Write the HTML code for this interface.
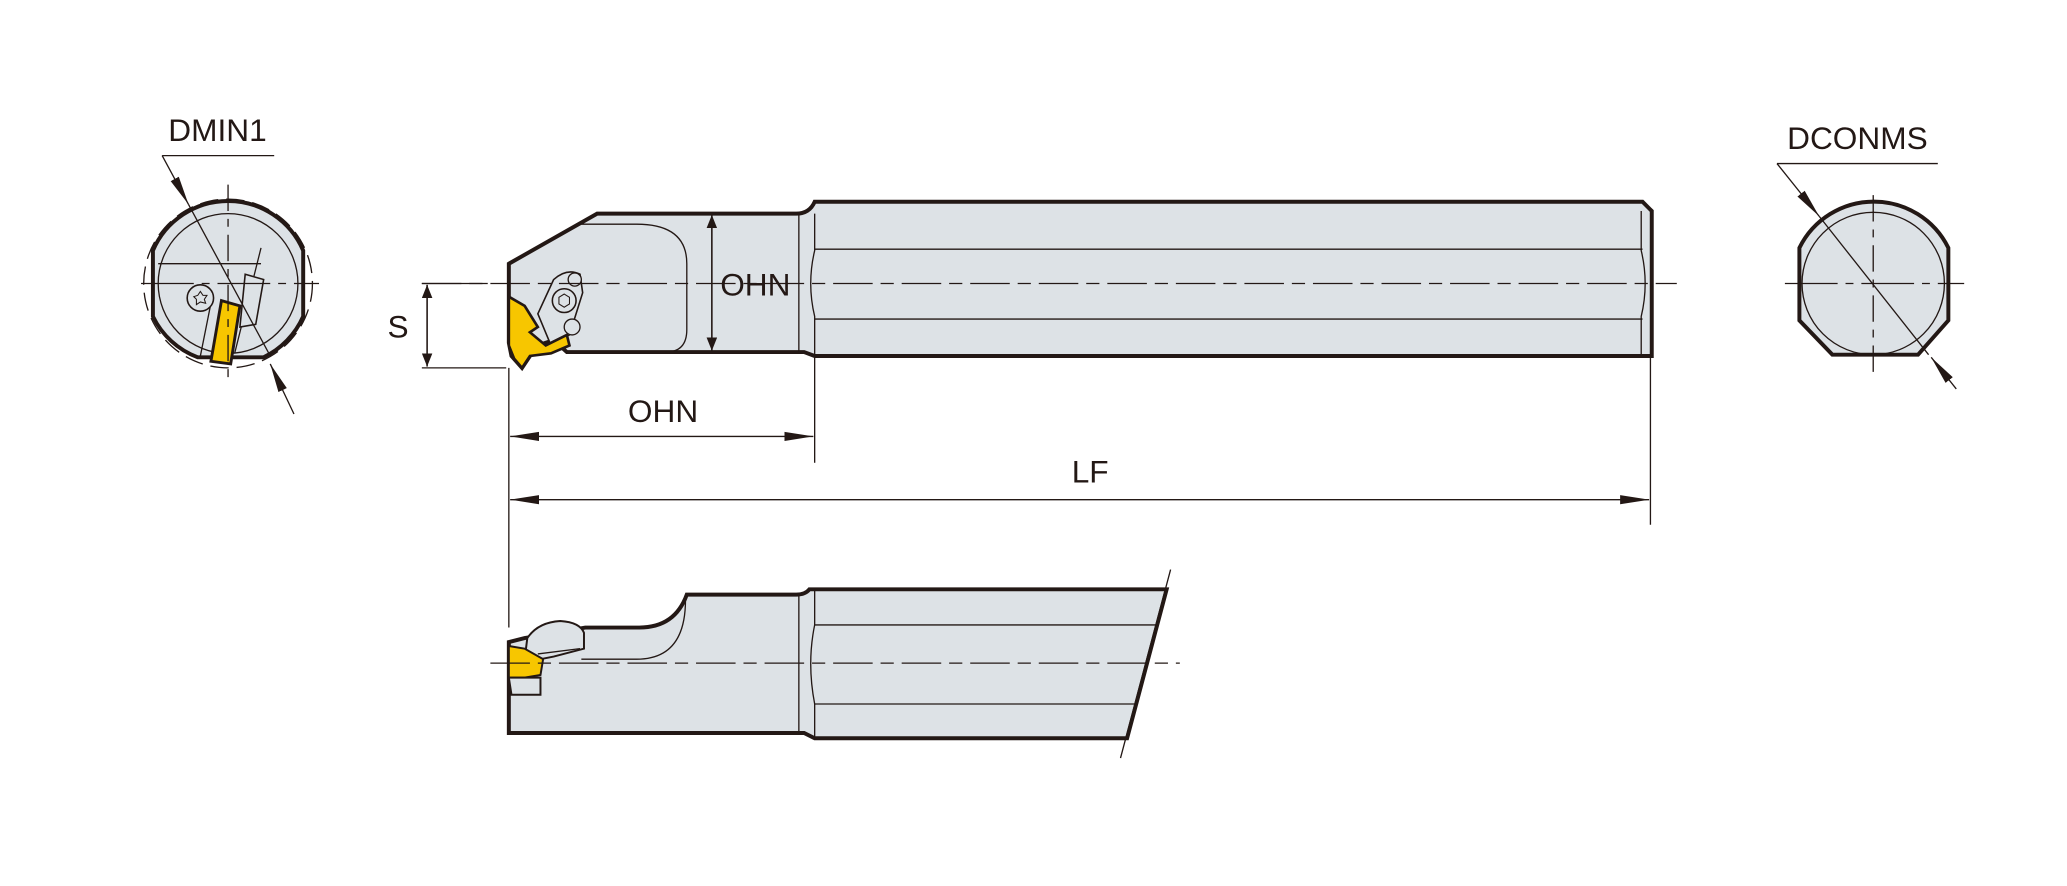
<!DOCTYPE html>
<html><head><meta charset="utf-8"><style>
html,body{margin:0;padding:0;background:#fff;}
svg{display:block;}
text{font-family:"Liberation Sans",sans-serif;fill:#231815;}
</style></head><body>
<svg width="2067" height="886" viewBox="0 0 1568 672" xmlns="http://www.w3.org/2000/svg">
<defs>
<marker id="ar" markerWidth="10" markerHeight="8" refX="10" refY="4" orient="auto-start-reverse" markerUnits="userSpaceOnUse" viewBox="0 0 10 8">
<path d="M0,0 L10,4 L0,8 Z" fill="#231815"/></marker>
<marker id="arL" markerWidth="22" markerHeight="8" refX="22" refY="4" orient="auto-start-reverse" markerUnits="userSpaceOnUse" viewBox="0 0 22 8">
<path d="M0,0.5 L22,4 L0,7.5 Z" fill="#231815"/></marker>
</defs>
<g stroke="#231815" fill="none">

<!-- LEFT END VIEW -->
<circle cx="173" cy="215" r="64" stroke-width="1" stroke-dasharray="14,6"/>
<path d="M116,190 A62,62 0 0 1 230,190 L230,240 A62,62 0 0 1 200,271 L150,271 A62,62 0 0 1 116,240 Z" fill="#dde2e6" stroke-width="3"/>
<circle cx="173" cy="215" r="53" stroke-width="1"/>
<line x1="120" y1="200" x2="198" y2="200" stroke-width="1"/>
<line x1="198" y1="188" x2="178" y2="268" stroke-width="1"/>
<line x1="160" y1="230" x2="152" y2="270" stroke-width="1"/>
<circle cx="152" cy="226" r="10" fill="#dde2e6" stroke-width="1.2"/>
<path d="M152,221 l2,3 l3,0 l-2,3 l1,3 l-4,-1 l-3,2 l0,-4 l-2,-2 l3,-1 Z" stroke-width="0.8"/>
<path d="M186,208 l14,4 l-6,34 l-12,2 Z" fill="#dde2e6" stroke-width="1.2"/>
<path d="M168,228 L182,232 L175,276 L160,274 Z" fill="#f7c600" stroke-width="2.2"/>
<line x1="107" y1="215" x2="242" y2="215" stroke-width="1" stroke-dasharray="40,6,6,6"/>
<line x1="173" y1="140" x2="173" y2="286" stroke-width="1" stroke-dasharray="20,6,6,6"/>
<line x1="123" y1="118" x2="208" y2="118" stroke-width="1"/>
<line x1="123" y1="118" x2="143" y2="155" stroke-width="1" marker-end="url(#arL)"/>
<line x1="143" y1="155" x2="205" y2="270" stroke-width="1"/>
<line x1="223" y1="314" x2="205" y2="276" stroke-width="1" marker-end="url(#arL)"/>

<!-- MAIN VIEW -->
<path d="M386,200 L453,162 L604,162 Q614,162 618,153 L1246,153 L1253,160 L1253,270 L618,270 L610,267 L430,267 L420,258 L408,262 L402,270 L396,279 L388,270 L386,260 Z" fill="#dde2e6" stroke-width="3"/>
<line x1="606" y1="162" x2="606" y2="267" stroke-width="1"/>
<path d="M618,162 L618,190 Q612,215 618,240 L618,270" stroke-width="1"/>
<line x1="618" y1="189" x2="1246" y2="189" stroke-width="1"/>
<line x1="618" y1="242" x2="1246" y2="242" stroke-width="1"/>
<path d="M1245,160 L1245,190 Q1251,215 1245,240 L1245,270" stroke-width="1"/>
<path d="M441,170 L483,170 Q521,170 521,200 L521,250 Q521,267 505,267" stroke-width="1"/>
<path d="M408,238 L420,212 Q430,203 440,208 L442,222 L432,254 L418,262 Z" fill="#dde2e6" stroke-width="1.2"/>
<circle cx="428" cy="228" r="9" fill="#dde2e6" stroke-width="1.2"/>
<path d="M428,223 l4,2.5 l0,5 l-4,2.5 l-4,-2.5 l0,-5 Z" stroke-width="0.8"/>
<circle cx="436" cy="212" r="5" fill="#dde2e6" stroke-width="1"/>
<circle cx="434" cy="248" r="6" fill="#dde2e6" stroke-width="1"/>
<path d="M386,225 L398,232 L408,248 L402,252 L414,262 L430,254 L432,262 L418,268 L402,270 L396,279 L390,272 L386,262 Z" fill="#f7c600" stroke-width="2"/>
<line x1="320" y1="215" x2="1272" y2="215" stroke-width="1" stroke-dasharray="30,6,10,6"/>

<line x1="320" y1="215" x2="370" y2="215" stroke-width="1"/>
<line x1="320" y1="279" x2="384" y2="279" stroke-width="1"/>
<line x1="324" y1="216" x2="324" y2="278" stroke-width="1.2" marker-start="url(#ar)" marker-end="url(#ar)"/>
<line x1="540" y1="163" x2="540" y2="266" stroke-width="1.2" marker-start="url(#ar)" marker-end="url(#ar)"/>
<line x1="386" y1="279" x2="386" y2="476" stroke-width="1"/>
<line x1="618" y1="271" x2="618" y2="351" stroke-width="1"/>
<line x1="1252" y1="271" x2="1252" y2="398" stroke-width="1"/>
<line x1="387" y1="331" x2="617" y2="331" stroke-width="1" marker-start="url(#arL)" marker-end="url(#arL)"/>
<line x1="387" y1="379" x2="1251" y2="379" stroke-width="1" marker-start="url(#arL)" marker-end="url(#arL)"/>

<!-- RIGHT END VIEW -->
<path d="M1365,188 A63,63 0 0 1 1478,188 L1478,243 L1455,269 L1390,269 L1365,243 Z" fill="#dde2e6" stroke-width="3"/>
<circle cx="1421" cy="215" r="54" stroke-width="1"/>
<line x1="1354" y1="215" x2="1490" y2="215" stroke-width="1" stroke-dasharray="40,6,6,6"/>
<line x1="1421" y1="148" x2="1421" y2="282" stroke-width="1" stroke-dasharray="20,6,6,6"/>
<line x1="1348" y1="124" x2="1470" y2="124" stroke-width="1"/>
<line x1="1348" y1="124" x2="1380" y2="164" stroke-width="1" marker-end="url(#arL)"/>
<line x1="1380" y1="164" x2="1463" y2="269" stroke-width="1"/>
<line x1="1484" y1="295" x2="1465" y2="271" stroke-width="1" marker-end="url(#arL)"/>

<!-- BOTTOM VIEW -->
<path d="M386,556 L386,487 L398,484 L444,476 L485,476 Q512,476 521,451 L604,451 Q611,451 614,447 L885,447 L855,560 L618,560 L610,556 Z" fill="#dde2e6" stroke-width="3"/>
<line x1="606" y1="451" x2="606" y2="556" stroke-width="1"/>
<path d="M618,447 L618,474 Q612,503 618,534 L618,560" stroke-width="1"/>
<line x1="618" y1="474" x2="878" y2="474" stroke-width="1"/>
<line x1="618" y1="534" x2="862" y2="534" stroke-width="1"/>
<path d="M441,500 L483,500 Q520,500 520,455" stroke-width="1"/>
<path d="M398,500 L400,484 Q408,472 425,471 Q440,472 443,480 L443,492 L420,498 L410,500 Z" fill="#dde2e6" stroke-width="1.5"/>
<path d="M408,496 L440,492" stroke-width="1"/>
<path d="M386,490 L398,492 L412,500 L410,512 L398,514 L386,514 Z" fill="#f7c600" stroke-width="1.5"/>
<path d="M386,514 L410,514 L410,527 L388,527 Z" fill="#dde2e6" stroke-width="1.5"/>
<line x1="372" y1="503" x2="895" y2="503" stroke-width="1" stroke-dasharray="30,6,10,6"/>
<line x1="888" y1="432" x2="850" y2="575" stroke-width="1"/>
</g>

<text x="165" y="107" font-size="24" text-anchor="middle">DMIN1</text>
<text x="1409" y="113" font-size="24" text-anchor="middle">DCONMS</text>
<text x="302" y="256" font-size="24" text-anchor="middle">S</text>
<text x="573" y="224" font-size="24" text-anchor="middle">OHN</text>
<text x="503" y="320" font-size="24" text-anchor="middle">OHN</text>
<text x="827" y="366" font-size="24" text-anchor="middle">LF</text>
</svg>
</body></html>
